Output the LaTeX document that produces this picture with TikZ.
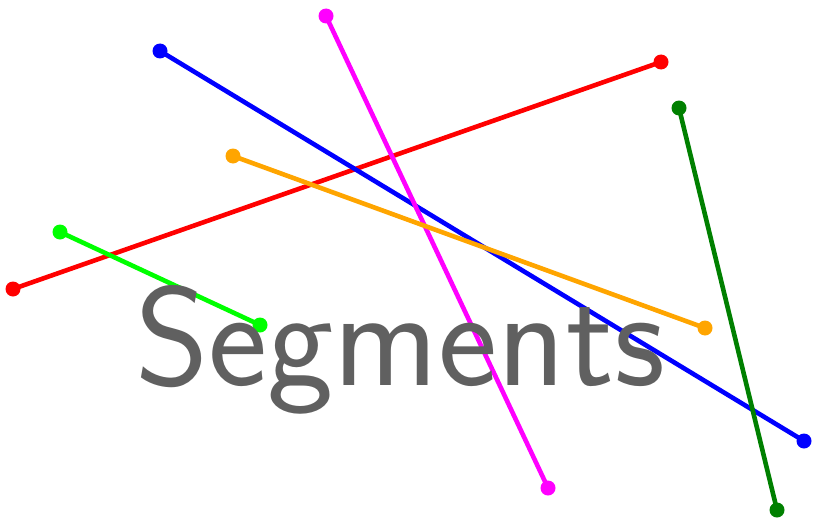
\documentclass[tikz,border=0pt]{standalone}
\definecolor{txtgray}{RGB}{96,96,96}
\definecolor{dkgreen}{RGB}{0,128,0}
\definecolor{orng}{RGB}{255,165,0}
\definecolor{lime}{RGB}{0,255,0}
\definecolor{mgnt}{RGB}{255,0,255}
\definecolor{pureblue}{RGB}{0,0,255}
\definecolor{purered}{RGB}{255,0,0}
\tikzset{
  seg/.style={line width=4.6pt},
  dotend/.style={circle, fill, inner sep=0pt, minimum size=15pt},
}
\begin{document}
\begin{tikzpicture}[x=1pt,y=-1pt]
\useasboundingbox (0,0) rectangle (813,519);
% red
\node[dotend, purered] (r1) at (13,289) {};
\node[dotend, purered] (r2) at (661,62) {};
\draw[seg, purered] (r1.center) -- (r2.center);
% blue
\node[dotend, pureblue] (b1) at (160,51) {};
\node[dotend, pureblue] (b2) at (804,441) {};
\draw[seg, pureblue] (b1.center) -- (b2.center);
% magenta
\node[dotend, mgnt] (m1) at (326,16) {};
\node[dotend, mgnt] (m2) at (548,488) {};
\draw[seg, mgnt] (m1.center) -- (m2.center);
% dark green
\node[dotend, dkgreen] (g1) at (679,108) {};
\node[dotend, dkgreen] (g2) at (777,510) {};
\draw[seg, dkgreen] (g1.center) -- (g2.center);
% orange
\node[dotend, orng] (o1) at (233,156) {};
\node[dotend, orng] (o2) at (705,328) {};
\draw[seg, orng] (o1.center) -- (o2.center);
% lime
\node[dotend, lime] (l1) at (60,232) {};
\node[dotend, lime] (l2) at (260,325) {};
\draw[seg, lime] (l1.center) -- (l2.center);
% text
\node[anchor=base, inner sep=0pt, text=txtgray, font=\fontsize{141}{145}\selectfont\sffamily] (title) at (400,385) {Segments};
\end{tikzpicture}
\end{document}
